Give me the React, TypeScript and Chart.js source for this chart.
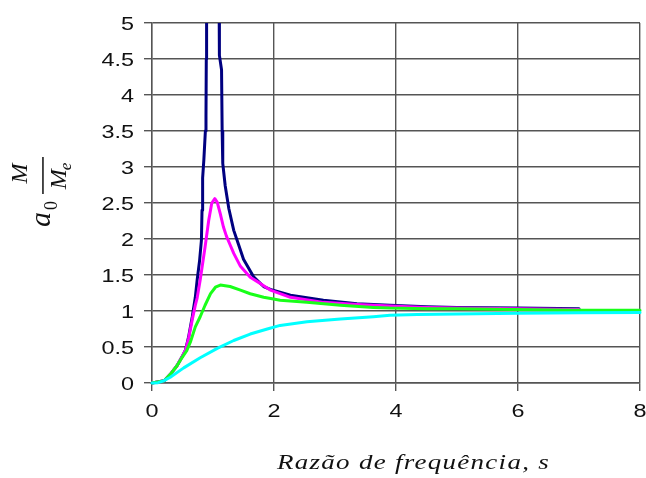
import React, { useEffect, useRef } from "react";
import { Chart, registerables } from "chart.js";

Chart.register(...registerables);

type Pt = [number, number];

// Magnification factor curves: [frequency ratio s, a0·M/Me]
const curveNavy: Pt[] = [
  [0, 0], [0.2, 0.03], [0.3, 0.12], [0.41, 0.24], [0.49, 0.36], [0.55, 0.46],
  [0.6, 0.64], [0.66, 0.92], [0.71, 1.19], [0.74, 1.43], [0.78, 1.7], [0.81, 1.98],
  [0.82, 2.4], [0.83, 2.85], [0.85, 3.1], [0.875, 3.5], [0.885, 3.7], [0.89, 4.5],
  [0.895, 5.3], [1.0, 9.0], [1.1, 5.3], [1.105, 4.55], [1.14, 4.35], [1.15, 3.5],
  [1.16, 3.05], [1.2, 2.74], [1.26, 2.42], [1.34, 2.12], [1.42, 1.92], [1.5, 1.72],
  [1.67, 1.47], [1.83, 1.34], [1.94, 1.3], [2.27, 1.22], [2.81, 1.15], [3.36, 1.1],
  [3.9, 1.08], [4.5, 1.06], [5.0, 1.05], [6.0, 1.04], [7.0, 1.03],
];

const curveMagenta: Pt[] = [
  [0, 0], [0.2, 0.03], [0.3, 0.12], [0.41, 0.24], [0.49, 0.36], [0.55, 0.46],
  [0.6, 0.62], [0.66, 0.88], [0.71, 1.08], [0.74, 1.18], [0.79, 1.43], [0.87, 1.89],
  [0.93, 2.26], [0.98, 2.5], [1.03, 2.56], [1.07, 2.51], [1.12, 2.35], [1.17, 2.17],
  [1.22, 2.04], [1.28, 1.92], [1.34, 1.8], [1.45, 1.62], [1.61, 1.47], [1.78, 1.38],
  [1.94, 1.29], [2.27, 1.19], [2.81, 1.12], [3.36, 1.09], [3.9, 1.07], [4.5, 1.05],
  [5.0, 1.04], [6.0, 1.03], [7.0, 1.02],
];

const curveGreen: Pt[] = [
  [0, 0], [0.2, 0.03], [0.3, 0.12], [0.41, 0.24], [0.49, 0.35], [0.57, 0.45],
  [0.63, 0.57], [0.71, 0.78], [0.79, 0.92], [0.87, 1.08], [0.96, 1.24], [1.04, 1.33],
  [1.12, 1.36], [1.28, 1.34], [1.45, 1.29], [1.61, 1.24], [1.83, 1.19], [1.97, 1.17],
  [2.1, 1.15], [2.54, 1.12], [3.09, 1.08], [3.63, 1.05], [3.9, 1.04], [4.5, 1.03],
  [5.0, 1.03], [5.9, 1.02], [7.0, 1.01], [8.0, 1.01],
];

const curveCyan: Pt[] = [
  [0, 0], [0.1, 0.005], [0.19, 0.03], [0.3, 0.08], [0.52, 0.21], [0.79, 0.35],
  [1.07, 0.48], [1.34, 0.59], [1.61, 0.68], [1.89, 0.75], [2.1, 0.8], [2.54, 0.85],
  [3.09, 0.89], [3.63, 0.92], [3.9, 0.94], [4.35, 0.95], [5.0, 0.96], [6.0, 0.97],
  [7.0, 0.975], [8.0, 0.98],
];

const xTickValues = [0, 2, 4, 6, 8];
const yTickValues = [0, 0.5, 1, 1.5, 2, 2.5, 3, 3.5, 4, 4.5, 5];
const xTitle = "Razão de frequência, s";

const TICK_FONT = '18px "Liberation Sans", Arial, sans-serif';
const TICK_STRETCH = 1.3;
const MATH_FONT = '"Liberation Serif", "Times New Roman", serif';

const toXY = (pts: Pt[]) => pts.map(([x, y]) => ({ x, y }));

// Tick labels and axis titles drawn by hand (wide tick digits, math-style titles)
const labelsPlugin = {
  id: "labelsPlugin",
  afterDraw(chart: Chart) {
    const { ctx, scales, chartArea } = chart;
    const xs = scales.x;
    const ys = scales.y;
    const c = ctx as any;
    ctx.save();
    ctx.fillStyle = "#111";
    ctx.font = TICK_FONT;
    ctx.textBaseline = "alphabetic";

    for (const v of yTickValues) {
      const py = ys.getPixelForValue(v);
      ctx.save();
      ctx.translate(chartArea.left - 18, py + 6.5);
      ctx.scale(TICK_STRETCH, 1);
      ctx.textAlign = "right";
      ctx.fillText(String(v), 0, 0);
      ctx.restore();
    }
    for (const v of xTickValues) {
      const px = xs.getPixelForValue(v);
      ctx.save();
      ctx.translate(px, chartArea.bottom + 34);
      ctx.scale(TICK_STRETCH, 1);
      ctx.textAlign = "center";
      ctx.fillText(String(v), 0, 0);
      ctx.restore();
    }

    // x axis title
    ctx.font = `italic 21px ${MATH_FONT}`;
    ctx.textAlign = "left";
    c.letterSpacing = "1px";
    const natural = ctx.measureText(xTitle).width;
    const targetWidth = 273;
    ctx.save();
    ctx.translate(277, 469);
    ctx.scale(targetWidth / natural, 1);
    ctx.fillText(xTitle, 0, 0);
    ctx.restore();
    c.letterSpacing = "0px";

    // y axis title: a0 · M / Me, reading bottom to top
    ctx.save();
    ctx.translate(50, 227);
    ctx.rotate(-Math.PI / 2);
    ctx.textAlign = "left";
    ctx.font = `italic 30px ${MATH_FONT}`;
    ctx.fillText("a", 0, 0);
    const aW = ctx.measureText("a").width;
    ctx.font = `18px ${MATH_FONT}`;
    ctx.fillText("0", aW + 2, 7);
    const barStart = 33;
    const barLen = 37;
    const barMid = barStart + barLen / 2;
    ctx.fillRect(barStart, -7.8, barLen, 1.5);
    ctx.font = `italic 24px ${MATH_FONT}`;
    ctx.textAlign = "center";
    ctx.fillText("M", barMid + 2, -23);
    const mW = ctx.measureText("M").width;
    ctx.font = `italic 17px ${MATH_FONT}`;
    const eW = ctx.measureText("e").width;
    const denStart = barMid - (mW + eW) / 2;
    ctx.textAlign = "left";
    ctx.font = `italic 24px ${MATH_FONT}`;
    ctx.fillText("M", denStart, 16);
    ctx.font = `italic 17px ${MATH_FONT}`;
    ctx.fillText("e", denStart + mW - 1, 21);
    ctx.restore();

    ctx.restore();
  },
};

export default function App() {
  const canvasRef = useRef<HTMLCanvasElement | null>(null);

  useEffect(() => {
    document.body.style.margin = "0";
    const canvas = canvasRef.current;
    if (!canvas) return;

    const lineStyle = (color: string) => ({
      borderColor: color,
      backgroundColor: color,
      borderWidth: 3,
      pointRadius: 0,
      tension: 0,
      fill: false,
      borderJoinStyle: "round" as const,
      borderCapStyle: "round" as const,
      clip: { left: 3, right: 3, top: 0, bottom: 3 },
    });

    const gridColor = "#555555";

    const chart = new Chart(canvas, {
      type: "line",
      data: {
        datasets: [
          { label: "cyan", data: toXY(curveCyan), ...lineStyle("#00ffff") },
          { label: "green", data: toXY(curveGreen), ...lineStyle("#19ff19") },
          { label: "magenta", data: toXY(curveMagenta), ...lineStyle("#ff00ff") },
          { label: "navy", data: toXY(curveNavy), ...lineStyle("#000080") },
        ],
      },
      options: {
        animation: false,
        responsive: false,
        maintainAspectRatio: false,
        layout: { padding: { top: 23, right: 6, bottom: 0, left: 0 } },
        plugins: {
          legend: { display: false },
          tooltip: { enabled: false },
          title: { display: false },
        },
        scales: {
          x: {
            type: "linear",
            min: 0,
            max: 8,
            ticks: { stepSize: 2, display: false },
            grid: { color: gridColor, lineWidth: 1.4, tickLength: 8, drawTicks: true, tickColor: gridColor },
            border: { display: true, color: gridColor, width: 1.4 },
            afterFit: (scale: any) => {
              scale.height = 95;
            },
          },
          y: {
            type: "linear",
            min: 0,
            max: 5,
            ticks: { stepSize: 0.5, display: false },
            grid: { color: gridColor, lineWidth: 1.4, tickLength: 8, drawTicks: true, tickColor: gridColor },
            border: { display: true, color: gridColor, width: 1.4 },
            afterFit: (scale: any) => {
              scale.width = 152;
            },
          },
        },
      },
      plugins: [labelsPlugin],
    });

    return () => chart.destroy();
  }, []);

  return (
    <div style={{ width: 646, height: 478, background: "#fff" }}>
      <canvas ref={canvasRef} width={646} height={478} style={{ display: "block", width: 646, height: 478 }} />
    </div>
  );
}
